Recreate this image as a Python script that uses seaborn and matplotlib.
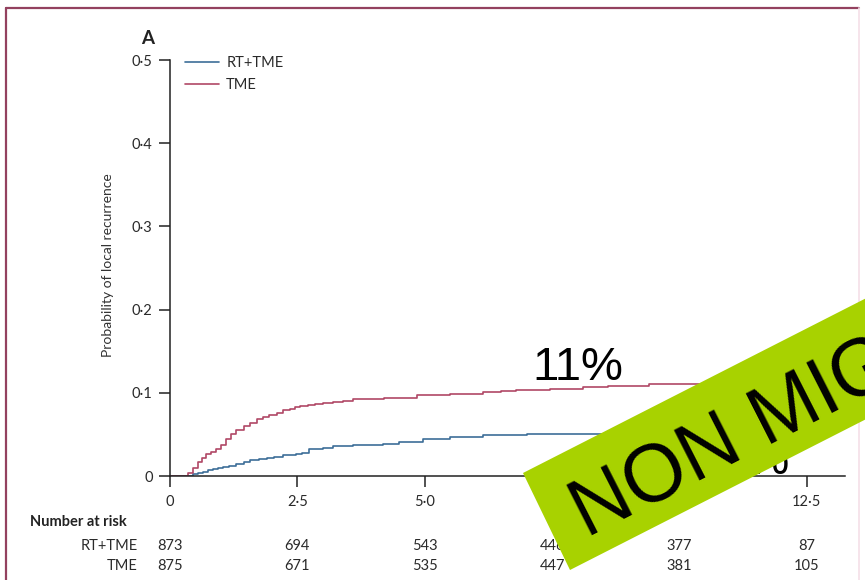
import numpy as np
import pandas as pd
import matplotlib
matplotlib.use('Agg')
import matplotlib.pyplot as plt
import seaborn as sns
from matplotlib.patches import Polygon
from matplotlib.lines import Line2D
from matplotlib.transforms import blended_transform_factory

# ---------------- data ----------------
tme_time = [0, 0.29, 0.35, 0.45, 0.55, 0.62, 0.7, 0.8, 0.9, 1.0, 1.1, 1.2, 1.3, 1.45,
            1.57, 1.7, 1.83, 1.95, 2.1, 2.22, 2.35, 2.45, 2.55, 2.7, 2.85, 3.0, 3.2,
            3.4, 3.6, 3.73, 4.2, 4.84, 5.2, 5.49, 5.8, 6.14, 6.5, 6.8, 7.45, 8.1,
            8.6, 9.41, 10.4, 11.0, 12.0, 12.6]
tme_prob = [0, 0, 0.004, 0.01, 0.017, 0.022, 0.026, 0.029, 0.032, 0.037, 0.044, 0.05,
            0.055, 0.06, 0.064, 0.068, 0.071, 0.073, 0.076, 0.079, 0.081, 0.083,
            0.0845, 0.0855, 0.087, 0.088, 0.089, 0.09, 0.092, 0.093, 0.094, 0.097,
            0.097, 0.098, 0.099, 0.1005, 0.102, 0.103, 0.104, 0.1066, 0.108, 0.111,
            0.111, 0.112, 0.112, 0.112]
rt_time = [0, 0.35, 0.45, 0.55, 0.65, 0.75, 0.85, 0.95, 1.05, 1.15, 1.3, 1.45, 1.57,
           1.75, 1.9, 2.05, 2.22, 2.47, 2.6, 2.73, 2.9, 3.0, 3.2, 3.6, 4.18, 4.5,
           4.96, 5.49, 6.14, 7.0, 7.45, 8.43, 9.5, 10.5, 11.5, 12.6]
rt_prob = [0, 0, 0.002, 0.004, 0.005, 0.007, 0.008, 0.0095, 0.011, 0.012, 0.014,
           0.017, 0.019, 0.021, 0.022, 0.023, 0.025, 0.026, 0.028, 0.032, 0.033,
           0.034, 0.036, 0.037, 0.039, 0.041, 0.045, 0.047, 0.049, 0.051, 0.051,
           0.051, 0.052, 0.052, 0.053, 0.053]
groups = ['RT+TME', 'TME']

x_ticks = [0, 2.5, 5.0, 7.5, 10.0, 12.5]
x_tick_labels = ['0', '2·5', '5·0', '7·5', '10·0', '12·5']
y_ticks = [0, 0.1, 0.2, 0.3, 0.4, 0.5]
y_tick_labels = ['0', '0·1', '0·2', '0·3', '0·4', '0·5']

risk_times = [0, 2.5, 5.0, 7.5, 10.0, 12.5]
risk_rt = [873, 694, 543, 446, 377, 87]
risk_tme = [875, 671, 535, 447, 381, 105]

annot_tme = '11%'
annot_rt = '5%'
banner_text = 'NON MIGLIORA'
panel_label = 'A'
y_label = 'Probability of local recurrence'

# ---------------- style ----------------
sns.set_style('ticks')
plt.rcParams['font.family'] = ['Lato', 'DejaVu Sans']

W, H = 865, 580
fig = plt.figure(figsize=(W / 100, H / 100), dpi=100)
fig.patch.set_facecolor('white')
ax = fig.add_axes([170 / W, (H - 476) / H, 675 / W, 416 / H])

df = pd.concat([
    pd.DataFrame({'time': rt_time, 'prob': rt_prob, 'group': groups[0]}),
    pd.DataFrame({'time': tme_time, 'prob': tme_prob, 'group': groups[1]}),
])
palette = {'RT+TME': '#3d6e98', 'TME': '#b04866'}
sns.lineplot(data=df, x='time', y='prob', hue='group', palette=palette,
             drawstyle='steps-post', estimator=None, linewidth=1.2, ax=ax)

ax.set_xlim(0, 13.25)
ax.set_ylim(0, 0.5)
ax.set_xticks(x_ticks)
ax.set_xticklabels(x_tick_labels)
ax.set_yticks(y_ticks)
ax.set_yticklabels(y_tick_labels)
ax.set_xlabel('')
ax.set_ylabel(y_label, fontsize=10, color='#333333')
ax.yaxis.set_label_coords(-0.083, 0.507)
for s in ['top', 'right']:
    ax.spines[s].set_visible(False)
for s in ['left', 'bottom']:
    ax.spines[s].set_linewidth(1.1)
    ax.spines[s].set_color('#222222')
ax.tick_params(axis='both', direction='out', length=8, width=1.1, color='#222222',
               labelsize=10.5, labelcolor='#2a2a2a')
ax.tick_params(axis='y', pad=4.5)
ax.tick_params(axis='x', pad=6)
ax.set_facecolor('white')

# legend
h, l = ax.get_legend_handles_labels()
ax.legend(h, l, loc='upper left', bbox_to_anchor=(0.012, 1.027), frameon=False,
          borderpad=0, handlelength=2.3, handletextpad=0.5, labelspacing=0.55,
          fontsize=10.5, labelcolor='#2a2a2a')

# panel label
fig.text(148 / W, 1 - 39 / H, panel_label, fontsize=13.5, fontweight='bold',
         ha='center', va='center', color='#222222')

# annotations
ax.text(7.12, 0.1154, annot_tme, fontsize=34, family='Liberation Sans',
        ha='left', va='baseline', color='black')
ax.text(12.16, 0.0024, annot_rt, fontsize=34, family='Liberation Sans',
        ha='right', va='baseline', color='black')

# number at risk table
tr = blended_transform_factory(ax.transData, fig.transFigure)
fig.text(30 / W, 1 - 522 / H, 'Number at risk', fontsize=10.5, fontweight='bold',
         ha='left', va='center', color='#222222')
fig.text(138 / W, 1 - 546 / H, groups[0], fontsize=10.5, ha='right', va='center',
         color='#2a2a2a')
fig.text(138 / W, 1 - 566 / H, groups[1], fontsize=10.5, ha='right', va='center',
         color='#2a2a2a')
for t, a, b in zip(risk_times, risk_rt, risk_tme):
    ax.text(t, 1 - 546 / H, str(a), transform=tr, fontsize=10.5, ha='center',
            va='center', color='#2a2a2a', clip_on=False)
    ax.text(t, 1 - 566 / H, str(b), transform=tr, fontsize=10.5, ha='center',
            va='center', color='#2a2a2a', clip_on=False)

# slide frame (top & left maroon rule)
fc = '#93415f'
fig.add_artist(Line2D([6 / W, 859 / W], [1 - 8 / H, 1 - 8 / H], transform=fig.transFigure,
                      color=fc, lw=1.6))
fig.add_artist(Line2D([6 / W, 6 / W], [1 - 8 / H, 0], transform=fig.transFigure,
                      color=fc, lw=1.6))
fig.add_artist(Line2D([859 / W, 859 / W], [1 - 8 / H, 0], transform=fig.transFigure,
                      color='#f5dfe8', lw=1.2))

# green banner
ang = np.deg2rad(27)
d = np.array([np.cos(ang), -np.sin(ang)])
p1 = np.array([523, 473]); p2 = np.array([570, 570])
p3 = p2 + 700 * d; p4 = p1 + 700 * d
pts = [(p[0] / W, 1 - p[1] / H) for p in (p1, p2, p3, p4)]
fig.add_artist(Polygon(pts, closed=True, transform=fig.transFigure,
                       facecolor='#a8d200', edgecolor='none', zorder=5))
fig.text(587 / W, 1 - 538 / H, banner_text, fontsize=58, family='Liberation Sans',
         rotation=27, rotation_mode='anchor', ha='left', va='baseline',
         color='black', zorder=6)

fig.savefig('out.png', dpi=100)
